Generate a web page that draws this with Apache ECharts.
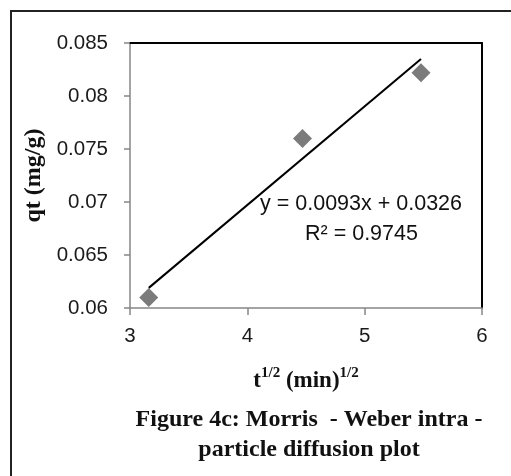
<!DOCTYPE html>
<html>
<head>
<meta charset="utf-8">
<script src="https://cdn.jsdelivr.net/npm/echarts@6/dist/echarts.min.js"></script>
<style>html,body{margin:0;padding:0;background:#fff}#c{width:511px;height:476px}</style>
</head>
<body>
<div id="c"></div>
<script>
// Data
var tHalf = [3.16, 4.47, 5.48];           // t^1/2 (min)^1/2
var qt = [0.0610, 0.0760, 0.0822];        // qt (mg/g)
var trendX = [3.16, 5.48];                // linear trendline ends
var trendY = [0.0619, 0.0835];
var xTicks = [3, 4, 5, 6];
var yTicks = [0.06, 0.065, 0.07, 0.075, 0.08, 0.085];
var equationText = 'y = 0.0093x + 0.0326';
var r2Text = 'R\u00B2 = 0.9745';

var pts = tHalf.map(function (x, i) { return [x, qt[i]]; });
var tl = trendX.map(function (x, i) { return [x, trendY[i]]; });

var sans = '"Liberation Sans", Arial, sans-serif';
var serif = '"Liberation Serif", "Times New Roman", serif';

var chart = echarts.init(document.getElementById('c'), null, {renderer: 'canvas'});
chart.setOption({
  animation: false,
  backgroundColor: '#ffffff',
  grid: {left: 130, right: 29, top: 43, bottom: 168},
  xAxis: [{
    type: 'value', min: xTicks[0], max: xTicks[xTicks.length - 1], interval: 1,
    axisLine: {show: true, lineStyle: {color: '#868686', width: 1.5}},
    axisTick: {show: true, inside: false, length: 7, lineStyle: {color: '#868686', width: 1.5}},
    splitLine: {show: false},
    axisLabel: {color: '#1a1a1a', fontFamily: sans, fontSize: 20.5, margin: 18},
    name: '{b|t}{s|1/2}{b| (min)}{s|1/2}',
    nameLocation: 'middle', nameGap: 58,
    nameTextStyle: {
      rich: {
        b: {fontFamily: serif, fontWeight: 'bold', fontSize: 23, color: '#111', padding: [4,0,0,0]},
        s: {fontFamily: serif, fontWeight: 'bold', fontSize: 15, color: '#111', verticalAlign: 'top', padding: [0,0,4,0]}
      }
    }
  }, {
    type: 'value', position: 'top', min: xTicks[0], max: xTicks[xTicks.length - 1],
    axisLine: {show: true, lineStyle: {color: '#000', width: 2}},
    axisTick: {show: false}, axisLabel: {show: false}, splitLine: {show: false}
  }],
  yAxis: [{
    type: 'value', min: yTicks[0], max: yTicks[yTicks.length - 1], interval: 0.005,
    axisLine: {show: true, lineStyle: {color: '#868686', width: 1.5}},
    axisTick: {show: true, inside: false, length: 6, lineStyle: {color: '#868686', width: 1.5}},
    splitLine: {show: false},
    axisLabel: {color: '#1a1a1a', fontFamily: sans, fontSize: 20.5, margin: 22,
      formatter: function (v) { return String(parseFloat(v.toFixed(3))); }},
    name: 'qt (mg/g)', nameLocation: 'middle', nameGap: 80,
    nameTextStyle: {fontFamily: serif, fontWeight: 'bold', fontSize: 24, color: '#111'}
  }, {
    type: 'value', position: 'right', min: yTicks[0], max: yTicks[yTicks.length - 1],
    axisLine: {show: true, lineStyle: {color: '#000', width: 2}},
    axisTick: {show: false}, axisLabel: {show: false}, splitLine: {show: false}
  }],
  series: [{
    type: 'line', data: tl, showSymbol: false, symbol: 'none',
    lineStyle: {color: '#000', width: 2}, z: 2
  }, {
    type: 'scatter', data: pts, symbol: 'diamond', symbolSize: [19, 19],
    itemStyle: {color: '#5a5a5a'}, z: 3
  }],
  graphic: [
    {type: 'rect', shape: {x: 11, y: 11, width: 540, height: 520}, style: {fill: null, stroke: '#222', lineWidth: 2}, silent: true},
    {type: 'text', left: 260, top: 193, style: {text: equationText, font: '21.5px ' + sans, fill: '#111'}},
    {type: 'text', left: 305, top: 223, style: {text: r2Text, font: '21.5px ' + sans, fill: '#111'}},
    {type: 'text', x: 309, y: 420, style: {text: 'Figure 4c: Morris  - Weber intra -', font: 'bold 24px ' + serif, fill: '#111', align: 'center', verticalAlign: 'middle'}},
    {type: 'text', x: 309, y: 450, style: {text: 'particle diffusion plot', font: 'bold 24px ' + serif, fill: '#111', align: 'center', verticalAlign: 'middle'}}
  ]
});
</script>
</body>
</html>
